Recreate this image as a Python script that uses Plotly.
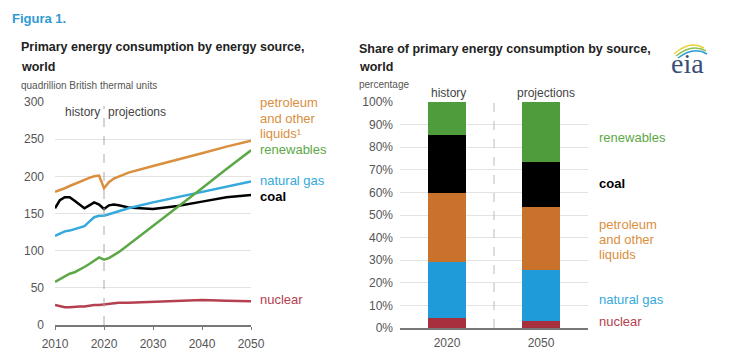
import plotly.graph_objects as go

W, H = 730, 353

# ---------------- data ----------------
years_hist = [2010, 2011, 2012, 2013, 2014, 2015, 2016, 2017, 2018, 2019, 2020]
years_proj = [2021, 2022, 2023, 2025, 2030, 2035, 2040, 2045, 2050]
years = years_hist + years_proj

petroleum = [179, 181, 184, 187, 190, 193, 196, 198, 200, 201, 184,
             192, 197, 200, 205, 214, 222, 231, 240, 248]
renewables = [58, 62, 66, 69, 71, 74, 78, 82, 86, 91, 88,
              90, 94, 98, 108, 133, 158, 184, 210, 235]
natural_gas = [120, 123, 126, 127, 129, 131, 133, 139, 145, 147, 147,
               149, 151, 153, 157, 165, 172, 179, 186, 193]
coal = [157, 168, 172, 172, 167, 162, 157, 161, 165, 162, 156,
        161, 162, 161, 158, 156, 160, 166, 172, 175]
nuclear = [27, 25, 24, 24, 25, 25, 25, 26, 27, 27, 28,
           29, 29, 30, 30, 31, 33, 33.5, 32.5, 32]

bar_years = ["2020", "2050"]
share_nuclear = [4.3, 3.2]
share_gas = [24.8, 22.5]
share_petroleum = [30.5, 27.7]
share_coal = [25.7, 20.2]
share_renewables = [14.7, 26.4]

left_ticks = [0, 50, 100, 150, 200, 250, 300]
right_ticks = [0, 10, 20, 30, 40, 50, 60, 70, 80, 90, 100]
right_ticktext = [f"{v}%" for v in right_ticks]

# ---------------- styles ----------------
C_PET_L = "#D98F3E"
C_REN_L = "#5CA847"
C_GAS_L = "#34A9DB"
C_COAL = "#000000"
C_NUC_L = "#B5404F"
C_PET_B = "#C8722C"
C_REN_B = "#4E9C3B"
C_GAS_B = "#1E9BD8"
C_NUC_B = "#A7303C"
FONT = "Liberation Sans"
GRID = "#E3E3E3"


def px(x):
    return x / W


def py(y):
    return 1 - y / H


fig = go.Figure()

for name, vals, col in [("nuclear", nuclear, C_NUC_L),
                        ("coal", coal, C_COAL),
                        ("natural gas", natural_gas, C_GAS_L),
                        ("renewables", renewables, C_REN_L),
                        ("petroleum", petroleum, C_PET_L)]:
    fig.add_trace(go.Scatter(x=years, y=vals, mode="lines", name=name,
                             line=dict(color=col, width=2.5),
                             xaxis="x", yaxis="y", showlegend=False))

for name, vals, col in [("nuclear", share_nuclear, C_NUC_B),
                        ("natural gas", share_gas, C_GAS_B),
                        ("petroleum", share_petroleum, C_PET_B),
                        ("coal", share_coal, C_COAL),
                        ("renewables", share_renewables, C_REN_B)]:
    fig.add_trace(go.Bar(x=bar_years, y=vals, name=name, marker_color=col,
                         marker_line_width=0, width=0.4,
                         xaxis="x2", yaxis="y2", showlegend=False))

tickfont = dict(family=FONT, size=12, color="#555555")

fig.update_layout(
    width=W, height=H, margin=dict(l=0, r=0, t=0, b=0, autoexpand=False),
    paper_bgcolor="white", plot_bgcolor="white",
    barmode="stack",
    xaxis=dict(domain=[px(55), px(251)], range=[2010, 2050],
               tickvals=[2010, 2020, 2030, 2040, 2050], showgrid=False,
               zeroline=False, showline=True, linecolor="#777777",
               linewidth=1.5, ticks="outside", ticklen=3, tickcolor="#777777",
               tickfont=tickfont, ticklabelstandoff=4, automargin=False,
               fixedrange=True),
    yaxis=dict(domain=[py(325), py(102)], range=[0, 300],
               tickvals=left_ticks, showgrid=True, gridcolor=GRID,
               zeroline=False, showline=False, ticks="",
               tickfont=tickfont, ticklabelstandoff=10, automargin=False),
    xaxis2=dict(domain=[px(400), px(588)], type="category",
                showgrid=False, zeroline=False, showline=True,
                linecolor="#777777", linewidth=1.5, ticks="",
                tickfont=tickfont, anchor="y2", ticklabelstandoff=3,
                automargin=False),
    yaxis2=dict(domain=[py(328), py(102)], range=[0, 100],
                tickvals=right_ticks, ticktext=right_ticktext, showgrid=True,
                gridcolor=GRID, zeroline=False, showline=False, ticks="",
                tickfont=tickfont, anchor="x2", ticklabelstandoff=6,
                automargin=False),
)

# dashed separators
fig.add_shape(type="line", xref="x", yref="paper", x0=2020, x1=2020,
              y0=py(325), y1=py(106), line=dict(color="#AAAAAA", width=1, dash="dash"))
fig.add_shape(type="line", xref="paper", yref="paper", x0=px(494), x1=px(494),
              y0=py(328), y1=py(102), line=dict(color="#BBBBBB", width=1, dash="dash"))


def txt(x, y, s, size=13, color="#333333", bold=False, family=FONT, anchor="left"):
    if bold:
        s = "<b>" + s + "</b>"
    fig.add_annotation(x=px(x), y=py(y), xref="paper", yref="paper", text=s,
                       showarrow=False, xanchor=anchor, yanchor="middle",
                       borderpad=0, font=dict(family=family, size=size, color=color))


# titles
txt(11, 18, "Figura 1.", size=13, color="#2F9AD3", bold=True)
txt(20, 47, "Primary energy consumption by energy source,", size=12.5, color="#222222", bold=True)
txt(20, 67, "world", size=12.5, color="#222222", bold=True)
txt(20, 85, "quadrillion British thermal units", size=10, color="#555555")
txt(358, 49, "Share of primary energy consumption by source,", size=12.5, color="#222222", bold=True)
txt(358, 67, "world", size=12.5, color="#222222", bold=True)
txt(358, 84, "percentage", size=10, color="#555555")

# history / projections
txt(101, 112, "history", size=12, color="#444444", anchor="right")
txt(107, 112, "projections", size=12, color="#444444")
txt(448, 93, "history", size=12, color="#444444", anchor="center")
txt(546, 93, "projections", size=12, color="#444444", anchor="center")

# left labels
txt(259, 103, "petroleum", color=C_PET_L)
txt(259, 118, "and other", color=C_PET_L)
txt(259, 133, "liquids¹", color=C_PET_L)
txt(259, 150, "renewables", color=C_REN_L)
txt(259, 181, "natural gas", color=C_GAS_L)
txt(259, 196, "coal", color="#000000", bold=True)
txt(259, 299, "nuclear", color=C_NUC_L)

# right labels
txt(598, 137, "renewables", color=C_REN_L)
txt(598, 183, "coal", color="#000000", bold=True)
txt(598, 224, "petroleum", color=C_PET_L)
txt(598, 239, "and other", color=C_PET_L)
txt(598, 254, "liquids", color=C_PET_L)
txt(598, 299, "natural gas", color=C_GAS_L)
txt(598, 321, "nuclear", color=C_NUC_L)

# eia logo
txt(687, 64, "eia", size=28, color="#3A4F78", family="Liberation Serif", anchor="center")
for (x0, y0, x1, y1, cx, cy, col) in [(674, 54, 704, 48, 690, 40, "#E8D23A"),
                                      (676, 56, 706, 51, 692, 43, "#8CC152"),
                                      (678, 58, 707, 54, 694, 46, "#2F9AD3")]:
    fig.add_shape(type="path", xref="paper", yref="paper",
                  path=f"M {px(x0)} {py(y0)} Q {px(cx)} {py(cy)} {px(x1)} {py(y1)}",
                  line=dict(color=col, width=1.5))

fig.write_html("out.html")
